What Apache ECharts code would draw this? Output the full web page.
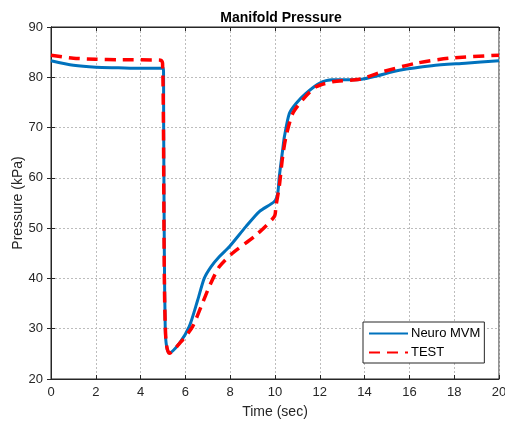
<!DOCTYPE html>
<html>
<head>
<meta charset="utf-8">
<script src="https://cdn.jsdelivr.net/npm/echarts@6/dist/echarts.min.js"></script>
<style>
  html, body { margin: 0; padding: 0; background: #fff; }
  #main { width: 505px; height: 425px; }
</style>
</head>
<body>
<div id="main"></div>
<script>
// Neuro MVM (model) - [time sec, pressure kPa]
var neuroTime = [0, 1, 2, 3, 4, 5.02, 5.03, 5.06, 5.1, 5.16, 5.28, 5.73, 6.17, 6.55, 6.84, 7.14, 7.51, 7.96, 8.7, 9.3, 9.97, 10.12, 10.19, 10.34, 10.42, 10.64, 10.94, 11.38, 11.98, 12.56, 13.6, 15.55, 17.0, 18.5, 20];
var neuroVals = [83.3, 82.4, 82.0, 81.9, 81.8, 81.8, 70, 45, 30, 26.5, 25.2, 27.1, 30.4, 35.7, 40, 42.3, 44.3, 46.3, 50.3, 53.3, 55.3, 56.9, 60.2, 65.5, 68.2, 72.8, 74.8, 76.8, 78.8, 79.5, 79.5, 81.4, 82.3, 82.8, 83.3];

// TEST (measured)
var testTime = [0, 1, 2, 3, 4.9, 4.98, 5.02, 5.06, 5.13, 5.28, 5.88, 6.32, 6.7, 7.07, 7.51, 8.1, 9.15, 9.97, 10.04, 10.19, 10.34, 10.49, 10.79, 11.23, 11.83, 12.57, 13.76, 14.8, 16.3, 17.78, 20];
var testVals = [84.4, 83.8, 83.6, 83.5, 83.4, 82.8, 70, 40, 27.8, 25.1, 27.8, 30.4, 34.4, 38.4, 42.3, 45, 48.6, 52.3, 54.3, 58.3, 64.2, 68.2, 72.8, 75.5, 78.1, 79.1, 79.6, 81.1, 82.8, 83.8, 84.4];

var xTicks = [0, 2, 4, 6, 8, 10, 12, 14, 16, 18, 20];
var yTicks = [20, 30, 40, 50, 60, 70, 80, 90];

function pairs(t, v) {
  var out = [];
  for (var i = 0; i < t.length; i++) out.push([t[i], v[i]]);
  return out;
}

var axisColor = '#262626';
var fontFam = 'Liberation Sans, Arial, Helvetica, sans-serif';
var gridLine = { show: true, lineStyle: { color: '#bdbdbd', type: [2, 2], width: 1 } };

var myChart = echarts.init(document.getElementById('main'));

var option = {
  animation: false,
  backgroundColor: '#fff',
  title: {
    text: 'Manifold Pressure',
    left: 276, top: 6, textAlign: 'center',
    textStyle: { fontFamily: fontFam, fontSize: 14, fontWeight: 'bold', color: '#000' }
  },
  // y axis title placed by hand (axis name kept getting pushed outward)
  graphic: [{
    type: 'text', x: 18, y: 203, rotation: Math.PI / 2,
    style: { text: 'Pressure (kPa)', fontFamily: fontFam, fontSize: 14, fill: axisColor,
      align: 'center', verticalAlign: 'middle' }
  }],
  grid: { left: 51, right: 6, top: 27, bottom: 46, containLabel: false, outerBoundsMode: 'none',
    show: true, borderColor: axisColor, borderWidth: 1, backgroundColor: 'transparent' },
  legend: {
    orient: 'vertical',
    left: 363, top: 322,
    data: ['Neuro MVM', 'TEST'],
    itemWidth: 39, itemHeight: 10, itemGap: 6,
    padding: [5, 4, 4, 5],
    itemStyle: { opacity: 0 },
    borderColor: axisColor, borderWidth: 1, backgroundColor: '#fff',
    textStyle: { fontFamily: fontFam, fontSize: 13, color: '#000', padding: [0, 0, 0, -2] }
  },
  xAxis: [{
    type: 'value', min: 0, max: 20, interval: 2,
    name: 'Time (sec)', nameLocation: 'middle', nameGap: 26,
    nameTextStyle: { fontFamily: fontFam, fontSize: 14, color: axisColor },
    axisLine: { show: true, onZero: false, lineStyle: { color: axisColor } },
    axisTick: { show: true, inside: true, length: 4, lineStyle: { color: axisColor } },
    axisLabel: { fontFamily: fontFam, fontSize: 13, color: axisColor, margin: 7,
      formatter: function (v) { return xTicks.indexOf(v) >= 0 ? String(v) : ''; } },
    splitLine: gridLine
  }, {
    type: 'value', min: 0, max: 20, interval: 2, position: 'top',
    axisLine: { show: true, lineStyle: { color: axisColor } },
    axisTick: { show: true, inside: true, length: 4, lineStyle: { color: axisColor } },
    axisLabel: { show: false }, splitLine: { show: false }
  }],
  yAxis: [{
    type: 'value', min: 20, max: 90, interval: 10,
    axisLine: { show: true, onZero: false, lineStyle: { color: axisColor } },
    axisTick: { show: true, inside: true, length: 4, lineStyle: { color: axisColor } },
    axisLabel: { fontFamily: fontFam, fontSize: 13, color: axisColor, margin: 8,
      formatter: function (v) { return yTicks.indexOf(v) >= 0 ? String(v) : ''; } },
    splitLine: gridLine
  }, {
    type: 'value', min: 20, max: 90, interval: 10, position: 'right',
    axisLine: { show: true, lineStyle: { color: axisColor } },
    axisTick: { show: true, inside: true, length: 4, lineStyle: { color: axisColor } },
    axisLabel: { show: false }, splitLine: { show: false }
  }],
  series: [
    {
      name: 'Neuro MVM', type: 'line', data: pairs(neuroTime, neuroVals),
      showSymbol: false, symbol: 'none', smooth: 0.25, z: 3,
      lineStyle: { color: '#0072BD', width: 3 },
      itemStyle: { color: '#0072BD' }
    },
    {
      name: 'TEST', type: 'line', data: pairs(testTime, testVals),
      showSymbol: false, symbol: 'none', smooth: 0.25, z: 4,
      lineStyle: { color: '#FF0000', width: 3.5, type: [11, 7] },
      itemStyle: { color: '#FF0000' }
    }
  ]
};

myChart.setOption(option);
</script>
</body>
</html>
